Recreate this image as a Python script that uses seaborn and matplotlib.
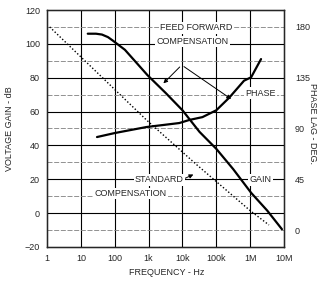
import numpy as np
import pandas as pd
import seaborn as sns
import matplotlib.pyplot as plt

# feed forward compensation - gain (dB)
ff_freq = [16, 28, 42, 63, 87, 200, 930, 3200, 10000, 32000, 100000, 316000, 1070000, 3200000, 8700000]
ff_gain = [106, 106, 105.5, 104, 102, 96.5, 81.5, 71, 60.8, 48, 38, 26, 12, 1.5, -9.5]

# standard compensation - gain (dB)
std_freq = [1.2, 870, 25000, 1000000, 3600000]
std_gain = [110, 55, 29, 1.5, -7]

# feed forward compensation - phase lag (deg)
ph_freq = [30, 100, 870, 8100, 16000, 39000, 100000, 240000, 660000, 1070000, 2100000]
ph_lag = [82.5, 86, 91.3, 94.8, 97.5, 100, 106, 117, 132, 135, 151]

x_ticks = [1, 10, 100, 1e3, 1e4, 1e5, 1e6, 1e7]
x_labels = ['1', '10', '100', '1k', '10k', '100k', '1M', '10M']
y_ticks = [-20, 0, 20, 40, 60, 80, 100, 120]
ph_ticks = [0, 45, 90, 135, 180]

sns.set_style('white')
plt.rcParams['font.family'] = ['Liberation Sans', 'DejaVu Sans']
fs = 6.5

fig = plt.figure(figsize=(3.21, 2.86), dpi=100)
ax = fig.add_axes([0.1464, 0.1364, 0.7383, 0.8286])

ff = pd.DataFrame({'f': ff_freq, 'db': ff_gain})
std = pd.DataFrame({'f': std_freq, 'db': std_gain})

# grid
for f in x_ticks[1:-1]:
    ax.axvline(f, color='black', lw=0.8, zorder=1)
for y in range(0, 120, 20):
    ax.axhline(y, color='black', lw=0.8, zorder=1)
for y in range(-10, 120, 20):
    ax.axhline(y, color='0.5', lw=0.6, ls=(0, (6, 2)), zorder=1)

sns.lineplot(data=ff, x='f', y='db', ax=ax, color='black', lw=1.6, zorder=3)
sns.lineplot(data=std, x='f', y='db', ax=ax, color='black', lw=1.0, ls=(0, (1, 1.5)), zorder=3)

ax.set_xscale('log')
ax.set_xlim(1, 1e7)
ax.set_ylim(-20, 120)
ax.set_xticks(x_ticks)
ax.set_xticklabels(x_labels)
ax.minorticks_off()
ax.set_yticks(y_ticks)
ax.tick_params(length=0, pad=5, labelsize=fs)
ax.set_xlabel('FREQUENCY - Hz', fontsize=fs)
ax.set_ylabel('VOLTAGE GAIN - dB', fontsize=fs)
ax.xaxis.set_label_coords(0.503, -0.088)
ax.yaxis.set_label_coords(-0.139, 0.5)
for s in ax.spines.values():
    s.set_color('black')
    s.set_linewidth(1.0)

# phase axis
ax2 = ax.twinx()
ph = pd.DataFrame({'f': ph_freq, 'ph': ph_lag})
sns.lineplot(data=ph, x='f', y='ph', ax=ax2, color='black', lw=1.6, zorder=3)
ax2.set_ylim(-14.1, 194.1)
ax2.set_yticks(ph_ticks)
ax2.tick_params(length=0, pad=8, labelsize=fs)
ax2.set_ylabel('PHASE LAG - DEG.', fontsize=fs, rotation=-90, va='center')
ax2.yaxis.set_label_coords(1.122, 0.52)
ax2.set_xlabel('')
ax2.set_xlim(1, 1e7)

box = dict(facecolor='white', edgecolor='none', pad=1)
ax2.text(2.6e4, 178.5, 'FEED FORWARD', ha='center', va='center', fontsize=fs, bbox=box, zorder=5)
ax2.text(2.0e4, 166.5, 'COMPENSATION', ha='center', va='center', fontsize=fs, bbox=box, zorder=5)
ax2.text(2.0e6, 121, 'PHASE', ha='center', va='center', fontsize=fs, bbox=box, zorder=5)
ax2.text(2.0e6, 45, 'GAIN', ha='center', va='center', fontsize=fs, bbox=box, zorder=5)
ax2.text(2.1e3, 45, 'STANDARD', ha='center', va='center', fontsize=fs, bbox=box, zorder=5)
ax2.text(3.4e3, 33, 'COMPENSATION', ha='right', va='center', fontsize=fs, bbox=box, zorder=5)

arrow = dict(arrowstyle='-|>', color='black', lw=0.7, mutation_scale=6)
ax.annotate('', xy=(2.4e3, 75.5), xytext=(9.5e3, 87.5), arrowprops=arrow, zorder=6)
ax.annotate('', xy=(3.2e5, 66.5), xytext=(9.5e3, 87.5), arrowprops=arrow, zorder=6)
ax.annotate('', xy=(2.5e4, 23.5), xytext=(3.8e3, 16), arrowprops=arrow, zorder=6)

fig.savefig('out.png', dpi=100)
